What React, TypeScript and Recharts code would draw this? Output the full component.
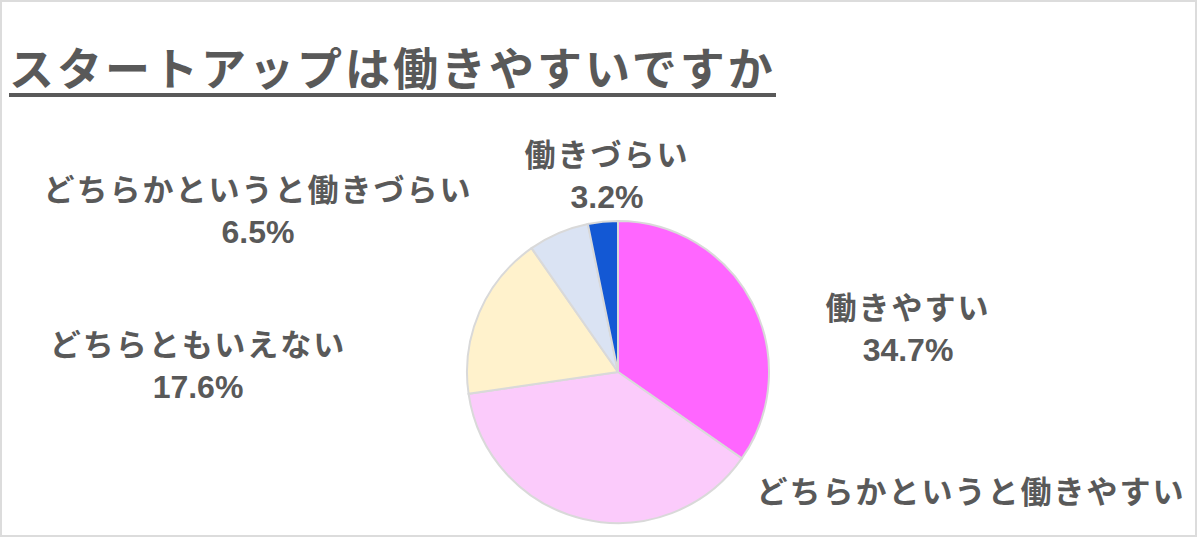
import { PieChart, Pie, Cell } from "recharts"

const categories = [
  "働きやすい",
  "どちらかというと働きやすい",
  "どちらともいえない",
  "どちらかというと働きづらい",
  "働きづらい",
]
const shares = [34.7, 38.0, 17.6, 6.5, 3.2]
const sliceColors = ["#ff66ff", "#fbcbfb", "#fff2cc", "#dae3f3", "#1358d4"]

const data = categories.map((name, i) => ({ name, value: shares[i] }))

const WIDTH = 1200
const HEIGHT = 538
const TEXT = "#595959"
const JP = "'Noto Sans CJK JP', 'Noto Sans', sans-serif"
const NUM = "'Liberation Sans', Arial, sans-serif"
const LINE_GAP = 42

// where each label sits, relative to the pie centre (first-line baseline)
const labelLayout = [
  { dx: 290, dy: -53 },
  { dx: 353, dy: 131 },
  { dx: -420, dy: -16 },
  { dx: -360, dy: -171 },
  { dx: -11, dy: -206 },
]

function renderLabel(props: any) {
  const { cx, cy, index, name, value } = props
  const pos = labelLayout[index]
  const x = cx + pos.dx
  const y = cy + pos.dy
  const y2 = y + LINE_GAP
  return (
    <g key={`lbl-${index}`}>
      <text
        x={x}
        y={y}
        textAnchor="middle"
        fill={TEXT}
        fontFamily={JP}
        fontSize={31}
        fontWeight="bold"
        letterSpacing={2}
      >
        {name}
      </text>
      {y2 < HEIGHT && (
        <text
          x={x}
          y={y2}
          textAnchor="middle"
          fill={TEXT}
          fontFamily={NUM}
          fontSize={32}
          fontWeight="bold"
        >
          {Number(value).toFixed(1)}%
        </text>
      )}
    </g>
  )
}

export default function App() {
  return (
    <div
      style={{
        position: "absolute",
        top: 0,
        left: 0,
        width: WIDTH,
        height: HEIGHT,
        background: "#fff",
        overflow: "hidden",
      }}
    >
      <div
        style={{
          position: "absolute",
          top: 0,
          left: 0,
          width: 1197,
          height: 537,
          boxSizing: "border-box",
          border: "2px solid #dcdcdc",
        }}
      />
      <div
        style={{
          position: "absolute",
          top: 45,
          left: 9,
          height: 44,
          paddingBottom: 4,
          borderBottom: `4px solid ${TEXT}`,
          fontFamily: JP,
          fontSize: 45,
          lineHeight: "44px",
          fontWeight: "bold",
          letterSpacing: 3,
          color: TEXT,
          whiteSpace: "nowrap",
        }}
      >
        スタートアップは働きやすいですか
      </div>
      <div style={{ position: "absolute", top: 0, left: 0 }}>
        <PieChart width={WIDTH} height={HEIGHT} margin={{ top: 0, right: 0, bottom: 0, left: 0 }}>
          <Pie
            data={data}
            dataKey="value"
            nameKey="name"
            cx={618}
            cy={372}
            outerRadius={151}
            startAngle={90}
            endAngle={-270}
            stroke="#d9d9d9"
            strokeWidth={2}
            label={renderLabel}
            labelLine={false}
            isAnimationActive={false}
          >
            {data.map((d, i) => (
              <Cell key={d.name} fill={sliceColors[i]} />
            ))}
          </Pie>
        </PieChart>
      </div>
    </div>
  )
}
